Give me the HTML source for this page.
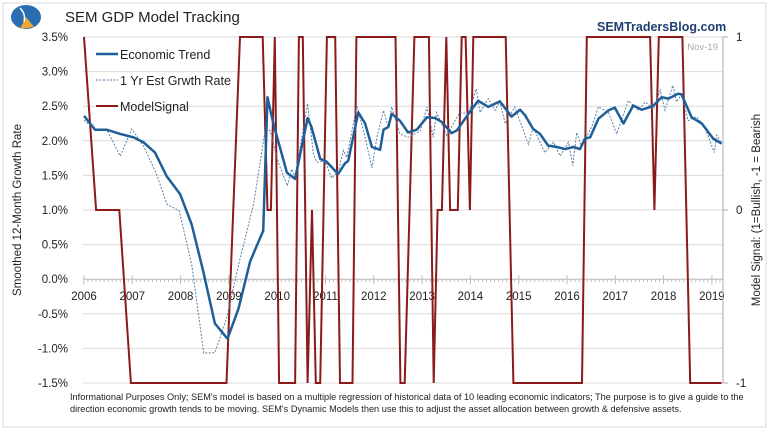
<!DOCTYPE html>
<html><head><meta charset="utf-8"><style>
body{margin:0;background:#fff}
svg{display:block;font-family:"Liberation Sans",sans-serif}
</style></head><body>
<svg width="770" height="430" viewBox="0 0 770 430">
<rect x="3" y="3" width="763" height="424" fill="#fff" stroke="#d9d9d9"/>
<g>
<ellipse cx="26" cy="17" rx="15" ry="12" fill="#2a6db3"/>
<path d="M26 17 L34 27 L20 29 Z" fill="#f0a830"/>
<path d="M20 8 Q26 14 24 22" stroke="#fff" stroke-width="1.5" fill="none"/>
</g>
<text x="65" y="22" font-size="15" fill="#222">SEM GDP Model Tracking</text>
<text x="597" y="31" font-size="12.5" font-weight="bold" fill="#1f3f73">SEMTradersBlog.com</text>
<text x="718" y="50" font-size="9.5" fill="#aaa" text-anchor="end">Nov-19</text>
<g id="grid"></g>
<g id="axes"></g>
<g id="series"></g>
<g>
<line x1="96" y1="54" x2="118" y2="54" stroke="#1f5f99" stroke-width="2.5"/>
<text x="120" y="59" font-size="12.5" fill="#222">Economic Trend</text>
<line x1="96" y1="80" x2="118" y2="80" stroke="#4a6f9a" stroke-width="1" stroke-dasharray="2,1.5"/>
<text x="120" y="85" font-size="12.5" fill="#222">1 Yr Est Grwth Rate</text>
<line x1="96" y1="106" x2="118" y2="106" stroke="#8b1a1a" stroke-width="2"/>
<text x="120" y="111" font-size="12.5" fill="#222">ModelSignal</text>
</g>
<text transform="translate(21,210) rotate(-90)" font-size="11.5" text-anchor="middle" fill="#222">Smoothed 12-Month Growth Rate</text>
<text transform="translate(760,210) rotate(-90)" font-size="11.5" text-anchor="middle" fill="#222">Model Signal: (1=Bullish, -1 = Bearish</text>
<g font-size="9.2" fill="#222">
<text x="70" y="400">Informational Purposes Only; SEM's model is based on a multiple regression of historical data of 10 leading economic indicators; The purpose is to give a guide to the</text>
<text x="70" y="412">direction economic growth tends to be moving. SEM's Dynamic Models then use this to adjust the asset allocation between growth &amp; defensive assets.</text>
</g>
</svg>
<script>
const yTicks=[3.5,3.0,2.5,2.0,1.5,1.0,0.5,0.0,-0.5,-1.0,-1.5];
const yTickLabels=["3.5%","3.0%","2.5%","2.0%","1.5%","1.0%","0.5%","0.0%","-0.5%","-1.0%","-1.5%"];
const y2Ticks=[1,0,-1];
const xYears=[2006,2007,2008,2009,2010,2011,2012,2013,2014,2015,2016,2017,2018,2019];
const trendT=[2006.0,2006.23,2006.47,2006.75,2007.02,2007.23,2007.47,2007.71,2007.99,2008.23,2008.47,2008.71,2008.97,2009.2,2009.44,2009.71,2009.8,2009.92,2010.2,2010.37,2010.63,2010.71,2010.89,2011.02,2011.26,2011.4,2011.47,2011.68,2011.82,2011.96,2012.13,2012.2,2012.3,2012.37,2012.54,2012.71,2012.89,2013.1,2013.27,2013.41,2013.61,2013.72,2013.96,2014.16,2014.37,2014.61,2014.85,2015.03,2015.13,2015.3,2015.44,2015.61,2015.79,2015.96,2016.13,2016.27,2016.37,2016.48,2016.65,2016.86,2016.99,2017.17,2017.37,2017.55,2017.69,2017.79,2017.96,2018.1,2018.3,2018.37,2018.58,2018.79,2019.03,2019.2];
const trendV=[2.36,2.16,2.16,2.10,2.05,1.98,1.83,1.49,1.23,0.79,0.11,-0.64,-0.86,-0.42,0.26,0.70,2.63,2.25,1.54,1.45,2.33,2.20,1.74,1.70,1.52,1.67,1.71,2.41,2.25,1.91,1.87,2.16,2.20,2.39,2.29,2.12,2.16,2.34,2.33,2.27,2.11,2.15,2.39,2.58,2.49,2.57,2.35,2.45,2.37,2.17,2.10,1.93,1.91,1.88,1.91,1.88,2.03,2.05,2.32,2.44,2.48,2.25,2.51,2.45,2.48,2.51,2.63,2.61,2.68,2.67,2.34,2.25,2.03,1.96];
const estT=[2006.0,2006.23,2006.47,2006.75,2006.99,2007.23,2007.5,2007.72,2007.97,2008.23,2008.48,2008.71,2008.95,2009.2,2009.51,2009.75,2009.85,2010.02,2010.21,2010.3,2010.37,2010.63,2010.75,2010.82,2010.99,2011.13,2011.27,2011.37,2011.44,2011.65,2011.82,2011.96,2012.06,2012.2,2012.3,2012.37,2012.54,2012.71,2012.96,2013.1,2013.23,2013.3,2013.51,2013.78,2013.96,2014.12,2014.2,2014.37,2014.51,2014.61,2014.72,2014.92,2015.2,2015.3,2015.54,2015.72,2015.86,2016.03,2016.12,2016.2,2016.3,2016.51,2016.65,2016.86,2017.03,2017.27,2017.48,2017.62,2017.79,2017.93,2018.03,2018.19,2018.27,2018.37,2018.51,2018.68,2018.85,2019.05,2019.1,2019.2];
const estV=[2.3,2.16,2.16,1.78,2.17,1.93,1.52,1.08,0.99,0.21,-1.07,-1.06,-0.57,0.21,1.08,2.15,2.15,1.69,1.35,1.59,1.47,2.54,1.81,1.69,1.71,1.46,1.57,1.86,1.76,2.51,2.05,1.61,2.03,2.44,2.2,2.49,2.10,2.05,2.14,2.49,2.05,2.41,2.08,2.41,2.39,2.75,2.41,2.61,2.44,2.57,2.25,2.49,1.95,2.2,1.83,1.98,1.78,1.98,1.64,2.12,1.91,2.20,2.49,2.41,2.10,2.58,2.44,2.56,2.46,2.73,2.44,2.80,2.56,2.67,2.29,2.35,2.2,1.83,2.08,1.96];
const sigT=[2006.0,2006.25,2006.73,2006.97,2008.95,2009.23,2009.7,2009.8,2009.87,2009.95,2010.04,2010.37,2010.45,2010.53,2010.63,2010.72,2010.8,2010.89,2011.03,2011.2,2011.3,2011.56,2011.64,2012.45,2012.55,2012.64,2012.84,2013.14,2013.24,2013.32,2013.41,2013.5,2013.58,2013.74,2013.82,2013.9,2013.99,2014.06,2014.73,2014.89,2016.31,2016.41,2017.72,2017.81,2017.9,2018.39,2018.55,2019.2];
const sigV=[1,0,0,-1,-1,1,1,0,0,1,-1,-1,1,1,-1,0,-1,-1,1,1,-1,-1,1,1,-1,-1,1,1,-1,0,0,1,0,0,1,1,0,1,1,-1,-1,1,1,0,1,1,-1,-1];

const NS="http://www.w3.org/2000/svg";
const L=83,R=723,T=37,B=383;
const xs=t=>84+(t-2006)*48.3;
const ys=v=>T+(3.5-v)*(B-T)/5;
const ys2=v=>T+(1-v)*(B-T)/2;
function mk(tag,attrs,parent){const e=document.createElementNS(NS,tag);for(const k in attrs)e.setAttribute(k,attrs[k]);parent.appendChild(e);return e;}
const grid=document.getElementById('grid'),axes=document.getElementById('axes'),series=document.getElementById('series');
yTicks.forEach((v,i)=>{
  const g=mk('line',{x1:L,x2:R,y1:ys(v),y2:ys(v),stroke:'#d9d9d9','stroke-width':1},grid);
  
  
  const t=mk('text',{x:68,y:ys(v)+4,'font-size':11.5,'text-anchor':'end',fill:'#222'},axes);
  t.textContent=yTickLabels[i];
  
  
});
const ax=mk('line',{x1:L,x2:R,y1:ys(0),y2:ys(0),stroke:'#bfbfbf','stroke-width':1},axes);


for(let t=2006;t<=2019.2;t+=1/12){
  const m=mk('line',{x1:xs(t),x2:xs(t),y1:ys(0),y2:ys(0)+3,stroke:'#bfbfbf','stroke-width':1},axes);
  
  
}
xYears.forEach(y=>{
  const k=mk('line',{x1:xs(y),x2:xs(y),y1:ys(0)-4,y2:ys(0)+5,stroke:'#bfbfbf','stroke-width':1},axes);
  
  
  const t=mk('text',{x:xs(y),y:ys(0)+21,'font-size':11.5,'text-anchor':'middle',fill:'#222'},axes);
  t.textContent=y;
  
  
});
const ax2=mk('line',{x1:R,x2:R,y1:T,y2:B,stroke:'#aaa','stroke-width':1},axes);


y2Ticks.forEach(v=>{
  const k=mk('line',{x1:R,x2:R+5,y1:ys2(v),y2:ys2(v),stroke:'#aaa'},axes);
  
  
  const t=mk('text',{x:736,y:ys2(v)+4,'font-size':11.5,fill:'#222'},axes);
  t.textContent=v;
  
  
});
function pts(T_,V_,f){return T_.map((t,i)=>xs(t).toFixed(1)+','+f(V_[i]).toFixed(1)).join(' ');}
const sig=mk('polyline',{points:pts(sigT,sigV,ys2),fill:'none',stroke:'#8b1a1a','stroke-width':2,'stroke-linejoin':'miter'},series);


const est=mk('polyline',{points:pts(estT,estV,ys),fill:'none',stroke:'#5a7ea8','stroke-width':1,'stroke-dasharray':'2,1.5'},series);


const tr=mk('polyline',{points:pts(trendT,trendV,ys),fill:'none',stroke:'#1f5f99','stroke-width':2.5,'stroke-linejoin':'round'},series);


</script>
</body></html>
